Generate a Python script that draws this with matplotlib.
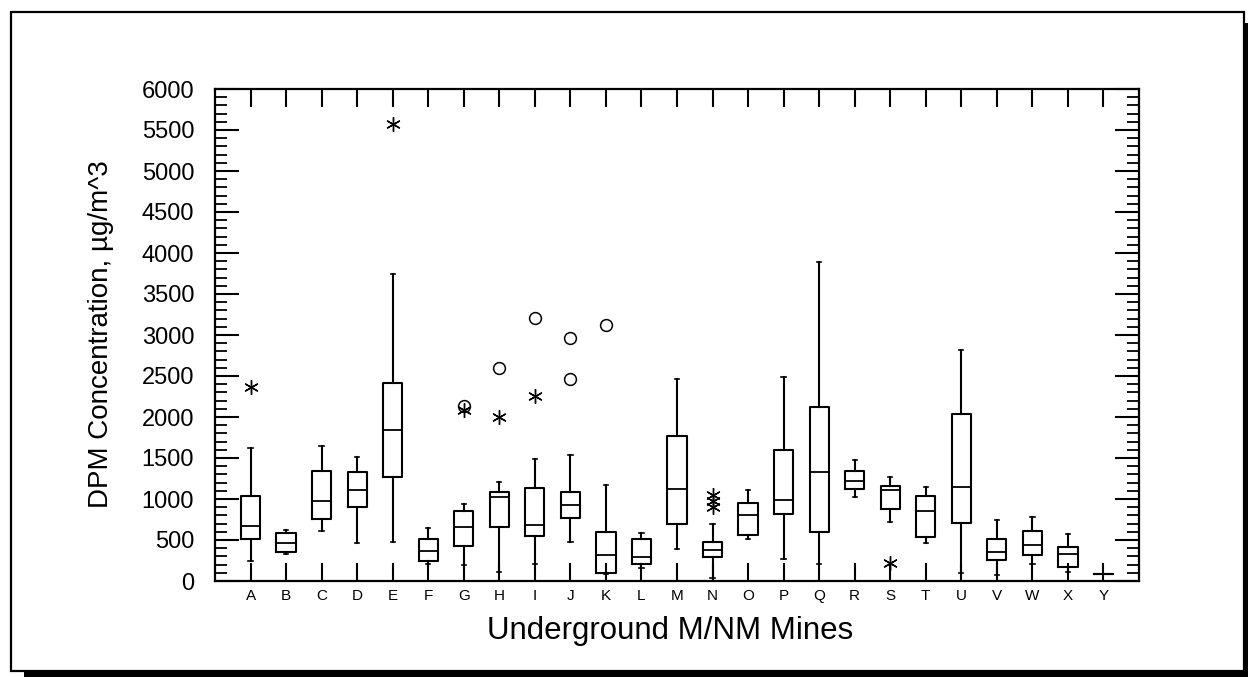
import matplotlib.pyplot as plt
import numpy as np
from matplotlib.patches import Rectangle

plt.rcParams["font.family"] = ["Liberation Sans", "DejaVu Sans"]

mines = list("ABCDEFGHIJKLMNOPQRSTUVWXY")

whisker_low = [244, 329, 614, 459, 476, 207, 199, 114, 203, 476, 85, 163, 390,
               40, 508, 268, 203, 1029, 720, 459, 93, 77, 207, 114, 85]
q1 = [508, 354, 752, 902, 1265, 248, 427, 659, 553, 772, 102, 207, 695,
      289, 557, 821, 598, 1118, 874, 533, 711, 256, 317, 175, 85]
median = [675, 467, 972, 1106, 1838, 370, 659, 1024, 679, 931, 313, 289, 1118,
          382, 805, 988, 1325, 1215, 1106, 858, 1150, 350, 439, 325, 85]
q3 = [1041, 582, 1346, 1333, 2411, 516, 854, 1082, 1138, 1085, 602, 516, 1768,
      476, 955, 1594, 2126, 1337, 1159, 1037, 2037, 508, 606, 411, 85]
whisker_high = [1619, 622, 1647, 1516, 3744, 650, 939, 1207, 1484, 1537, 1171, 585, 2468,
                695, 1110, 2488, 3890, 1472, 1272, 1150, 2817, 740, 780, 569, 85]

# outside values (asterisks) and far outside values (circles)
star_mines = ["A", "E", "G", "H", "I", "N", "N", "N", "S"]
star_values = [2370, 5570, 2080, 1996, 2256, 1049, 975, 899, 224]
circle_mines = ["G", "H", "I", "J", "J", "K"]
circle_values = [2140, 2594, 3203, 2964, 2464, 3126]

W, H = 1248, 677
fig = plt.figure(figsize=(W / 100, H / 100), dpi=100)

# framed border with drop shadow
fig.patches.append(Rectangle((24 / W, 0), 1, 1 - 23 / H, transform=fig.transFigure,
                             facecolor="black", edgecolor="none", zorder=-2))
fig.patches.append(Rectangle((11 / W, 6 / H), 1233 / W, 659 / H, transform=fig.transFigure,
                             facecolor="white", edgecolor="black", lw=1.6, zorder=-1))

ax = fig.add_axes([215 / W, 1 - 581 / H, 924 / W, 492 / H])

stats = []
for i, name in enumerate(mines):
    stats.append(dict(label=name, whislo=whisker_low[i], q1=q1[i], med=median[i],
                      q3=q3[i], whishi=whisker_high[i], fliers=[]))

pos = np.arange(1, len(mines) + 1)
line = dict(color="black", lw=1.5)
ax.bxp(stats, positions=pos, widths=0.54, capwidths=0.12, showfliers=False,
       boxprops=line, whiskerprops=line, capprops=dict(color="black", lw=1.2),
       medianprops=dict(color="black", lw=1.3))

idx = {m: k + 1 for k, m in enumerate(mines)}
ax.plot([idx[m] for m in star_mines], star_values, ls="none", marker=(6, 2, 0),
        ms=10.5, mec="black", mew=1.0)
ax.plot([idx[m] for m in circle_mines], circle_values, ls="none", marker="o",
        ms=8.5, mfc="none", mec="black", mew=1.1)

ax.set_xlim(0, 26)
ax.set_ylim(0, 6000)
ax.set_xticks(pos)
ax.set_xticklabels(mines)
ax.set_yticks(np.arange(0, 6001, 500))
ax.set_yticks(np.arange(0, 6001, 100), minor=True)

ax.tick_params(axis="x", direction="in", top=True, length=13, width=1.5,
               labelsize=11, pad=6)
ax.tick_params(axis="y", which="major", direction="in", right=True, length=17,
               width=1.5, labelsize=17, pad=15)
ax.tick_params(axis="y", which="minor", direction="in", right=True, length=8.5,
               width=1.3)
for s in ax.spines.values():
    s.set_linewidth(1.6)

fig.text(101 / W, 1 - 334 / H, "DPM Concentration, µg/m^3", rotation=90,
         ha="center", va="center", fontsize=20)
fig.text(670 / W, 1 - 639 / H, "Underground M/NM Mines", ha="center",
         va="baseline", fontsize=22.5)

fig.savefig("out.png", dpi=100)
